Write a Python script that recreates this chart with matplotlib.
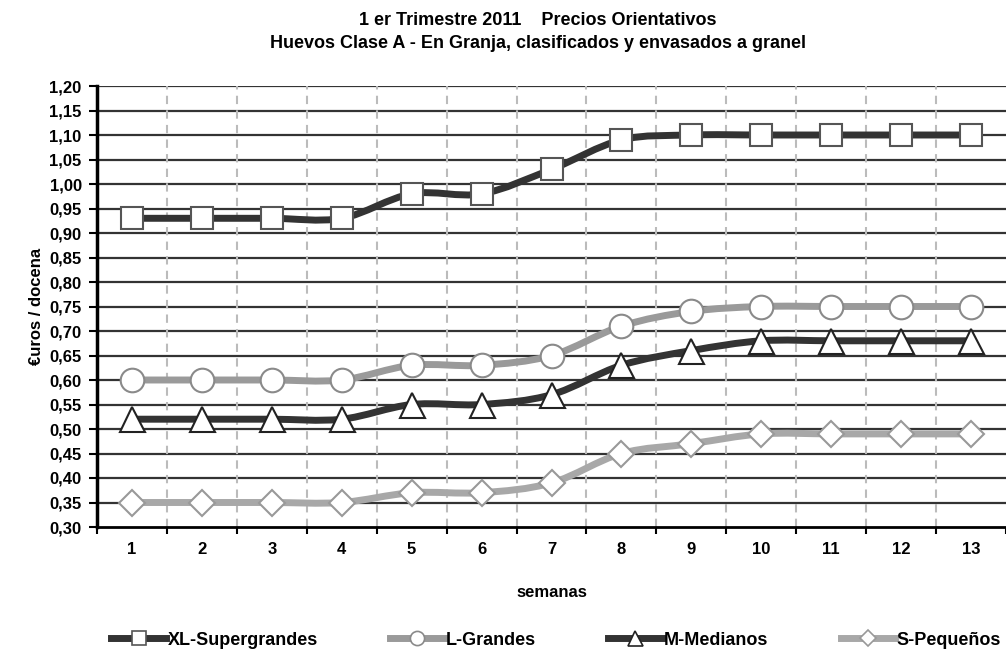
import numpy as np
import matplotlib
matplotlib.use("Agg")
from matplotlib import pyplot as plt
from matplotlib.path import Path
from matplotlib.patches import PathPatch
from matplotlib.lines import Line2D

semanas = list(range(1, 14))
xl = [0.93, 0.93, 0.93, 0.93, 0.98, 0.98, 1.03, 1.09, 1.10, 1.10, 1.10, 1.10, 1.10]
l_grandes = [0.60, 0.60, 0.60, 0.60, 0.63, 0.63, 0.65, 0.71, 0.74, 0.75, 0.75, 0.75, 0.75]
m_medianos = [0.52, 0.52, 0.52, 0.52, 0.55, 0.55, 0.57, 0.63, 0.66, 0.68, 0.68, 0.68, 0.68]
s_pequenos = [0.35, 0.35, 0.35, 0.35, 0.37, 0.37, 0.39, 0.45, 0.47, 0.49, 0.49, 0.49, 0.49]
yticks = np.arange(0.30, 1.2001, 0.05)

plt.rcParams["font.family"] = ["Liberation Sans", "DejaVu Sans"]
plt.rcParams["font.weight"] = "bold"


def smooth_path(xs, ys):
    # excel style smoothed line: bezier segments, catmull-rom control points
    pts = np.column_stack([xs, ys]).astype(float)
    n = len(pts)
    verts = [pts[0]]
    codes = [Path.MOVETO]
    for i in range(n - 1):
        p0 = pts[max(i - 1, 0)]
        p1 = pts[i]
        p2 = pts[i + 1]
        p3 = pts[min(i + 2, n - 1)]
        c1 = p1 + (p2 - p0) / 6
        c2 = p2 - (p3 - p1) / 6
        verts += [c1, c2, p2]
        codes += [Path.CURVE4] * 3
    return Path(verts, codes)


fig = plt.figure(figsize=(10.06, 6.57), dpi=100)
ax = fig.add_axes([97 / 1006, 130 / 657, 909 / 1006, 441 / 657])

series = [
    ("XL-Supergrandes", xl, "#333333", "s", "#555555", 16),
    ("L-Grandes", l_grandes, "#9a9a9a", "o", "#8a8a8a", 17),
    ("M-Medianos", m_medianos, "#333333", "^", "#222222", 18),
    ("S-Pequeños", s_pequenos, "#a8a8a8", "D", "#999999", 13),
]
handles = []
for name, vals, col, mk, mec, ms in series:
    ax.add_patch(PathPatch(smooth_path(semanas, vals), facecolor="none",
                           edgecolor=col, lw=5, zorder=3))
    ax.plot(semanas, vals, ls="none", marker=mk, markersize=ms,
            markerfacecolor="white", markeredgecolor=mec, markeredgewidth=1.5,
            zorder=4)
    handles.append(Line2D([], [], color=col, lw=5, marker=mk, markersize=ms * 0.6,
                          markerfacecolor="white", markeredgecolor=mec,
                          markeredgewidth=1.2, label=name))

ax.set_xlim(0.5, 13.5)
ax.set_ylim(0.30, 1.20)
ax.set_yticks(yticks)
ax.set_yticklabels([f"{v:.2f}".replace(".", ",") for v in yticks], fontsize=12)
ax.set_xticks(semanas)
ax.set_xticklabels([str(s) for s in semanas], fontsize=12)
ax.set_xticks(np.arange(0.5, 13.6, 1), minor=True)
ax.tick_params(axis="x", which="major", length=0, pad=11)
ax.tick_params(axis="x", which="minor", length=5, width=1.5, direction="out")
ax.tick_params(axis="y", length=6, width=1.5, direction="out", pad=5)

for y in yticks[1:]:
    ax.axhline(y, color="#333333", lw=1.6, zorder=1)
for x in np.arange(1.5, 13.5, 1):
    ax.axvline(x, color="#bbbbbb", lw=1.5, ls=(0, (4, 3)), zorder=1)

for side in ["top", "right"]:
    ax.spines[side].set_visible(False)
ax.spines["left"].set_linewidth(2.5)
ax.spines["bottom"].set_linewidth(2)

ax.set_xlabel("semanas", fontsize=12, fontweight="bold", labelpad=20)
ax.set_ylabel("€uros / docena", fontsize=12, fontweight="bold", labelpad=4)

fig.suptitle("1 er Trimestre 2011    Precios Orientativos\nHuevos Clase A - En Granja, clasificados y envasados a granel",
             fontsize=13, fontweight="bold", y=0.982, x=0.535, linespacing=1.45)

fig.legend(handles=handles, loc="lower center", bbox_to_anchor=(0.553, -0.012), ncol=4,
           frameon=False, fontsize=13, handlelength=3, handletextpad=0.1,
           columnspacing=4.0)

fig.savefig("out.png", dpi=100)
